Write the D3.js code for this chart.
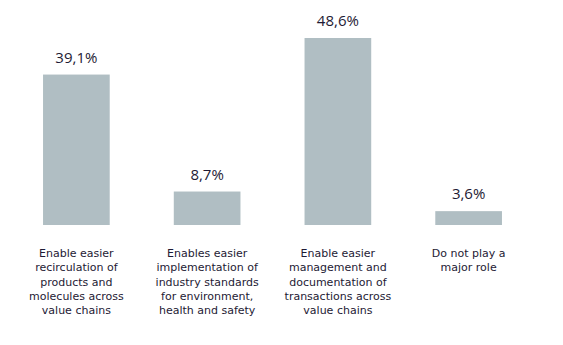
<!DOCTYPE html>
<html>
<head>
<meta charset="utf-8">
<script src="https://cdn.jsdelivr.net/npm/d3@7.9.0/dist/d3.min.js"></script>
<style>
  body { margin: 0; background: #fff; }
  text { font-family: "Open Sans", "DejaVu Sans", sans-serif; fill: #1e1a34; }
</style>
</head>
<body>
<svg id="chart" width="563" height="345"></svg>
<script>
// data
const categories = ['recirc', 'standards', 'transactions', 'norole'];
const values = [39.1, 8.7, 48.6, 3.6];
const valueLabels = ['39,1%', '8,7%', '48,6%', '3,6%'];
const categoryLines = [
  ['Enable easier', 'recirculation of', 'products and', 'molecules across', 'value chains'],
  ['Enables easier', 'implementation of', 'industry standards', 'for environment,', 'health and safety'],
  ['Enable easier', 'management and', 'documentation of', 'transactions across', 'value chains'],
  ['Do not play a', 'major role']
];

const svg = d3.select('#chart');
const BASE = 225;

const x = d3.scaleBand()
  .domain(categories)
  .range([11, 534])
  .paddingInner(0.49)
  .paddingOuter(0.245);

const y = d3.scaleLinear()
  .domain([0, 48.6])
  .range([BASE, 38]);

// bars
svg.selectAll('rect.bar')
  .data(values)
  .join('rect')
    .attr('class', 'bar')
    .attr('x', (d, i) => x(categories[i]))
    .attr('y', d => y(d))
    .attr('width', x.bandwidth())
    .attr('height', d => BASE - y(d))
    .attr('fill', '#b0bec3');

// value labels
svg.selectAll('text.val')
  .data(values)
  .join('text')
    .attr('class', 'val')
    .attr('x', (d, i) => x(categories[i]) + x.bandwidth() / 2)
    .attr('y', d => y(d) - 12)
    .attr('text-anchor', 'middle')
    .style('font-size', '15px')
    .text((d, i) => valueLabels[i]);

// category labels (axis without line/ticks)
const axis = svg.append('g')
  .attr('transform', `translate(0,${BASE})`)
  .call(d3.axisBottom(x).tickSize(0).tickFormat(''));
axis.select('.domain').remove();

axis.selectAll('.tick').each(function(d, i) {
  const t = d3.select(this).select('text')
    .attr('y', 0)
    .attr('dy', null)
    .attr('text-anchor', 'middle')
    .style('font-family', '"DejaVu Sans", sans-serif')
    .style('font-size', '11px')
    .style('fill', '#1e1a34');
  categoryLines[i].forEach((line, j) => {
    t.append('tspan')
      .attr('x', 0)
      .attr('y', 32 + j * 14.3)
      .text(line);
  });
});
</script>
</body>
</html>
